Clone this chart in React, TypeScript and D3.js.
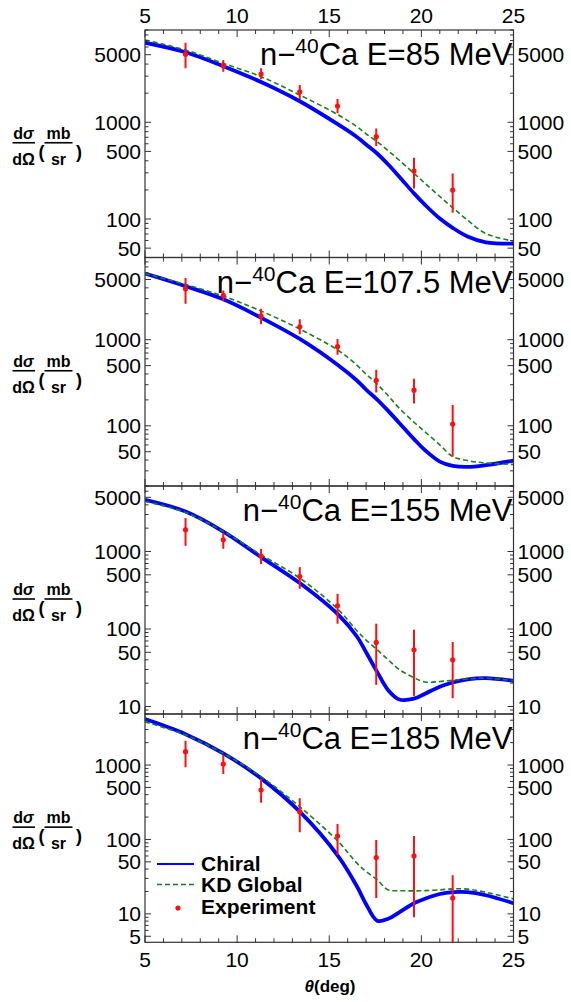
import React from 'react';
import * as d3 from 'd3';

// ---------- data ----------
const thetaGrid = [5, 7.2, 9.25, 11.3, 13.4, 15.5, 16.5, 17, 17.6, 18.2, 18.8, 19.6, 20.2, 21, 21.7, 22.5, 23.5, 25];

const chiral85 = [6650, 5300, 3805, 2610, 1650, 945, 705, 590, 476, 366, 274, 184, 140, 101, 81, 66, 57.5, 55.6];
const kd85 = [7100, 5590, 4070, 2960, 1915, 1190, 900, 760, 630, 508, 405, 296, 234, 171, 131, 97.6, 70.7, 59];
const chiral107 = [5850, 4180, 2940, 1800, 1020, 502, 336, 263, 202, 149, 108, 70, 52, 38.4, 34.3, 33.3, 34.9, 39.4];
const kd107 = [5850, 4370, 3200, 2150, 1330, 748, 506, 398, 305, 223, 160, 110, 85, 60, 44, 39.5, 37, 35.6];
const chiral155 = [4640, 3280, 1810, 847, 391, 152, 80, 50, 28, 16.2, 12.3, 12.6, 14.6, 18, 20.4, 22.4, 23.2, 21.4];
const kd155 = [4420, 3190, 1810, 906, 454, 177, 95, 72, 54, 40, 30, 23.5, 20.7, 21, 21.8, 22.6, 23.2, 21.6];
const chiral185 = [4140, 2600, 1435, 662, 236, 59, 23.5, 13.5, 8.1, 8.6, 10.5, 13.9, 16, 18.5, 19.6, 19.6, 17.8, 13.9];
const kd185 = [3810, 2530, 1435, 697, 275, 93, 48, 37, 28.6, 21, 20.5, 20.4, 20.5, 21, 21.7, 21.5, 19.5, 15.9];

const expTheta = [7.2, 9.25, 11.3, 13.4, 15.45, 17.55, 19.6, 21.7];
const exp85 = [5040, 3820, 3150, 2070, 1470, 710, 313, 199];
const exp85Lo = [3610, 3330, 2780, 1740, 1240, 568, 207, 116];
const exp85Hi = [6650, 4400, 3610, 2430, 1740, 865, 430, 296];
const exp107 = [3890, 3270, 1890, 1410, 831, 338, 259, 105];
const exp107Lo = [2610, 2800, 1510, 1160, 667, 244, 182, 44];
const exp107Hi = [5200, 3730, 2290, 1730, 1020, 449, 353, 174];
const exp155 = [1905, 1415, 881, 475, 199, 67, 54, 40];
const exp155Lo = [1185, 1083, 687, 330, 117, 19, 13.7, 12.8];
const exp155Hi = [2700, 1727, 1083, 629, 284, 117, 98, 68];
const exp185 = [1510, 1031, 461, 236, 111, 57, 60, 16.3];
const exp185Lo = [931, 757, 312, 125, 62, 16.3, 9, 1];
const exp185Hi = [2120, 1362, 649, 357, 161, 98, 111, 33];

const xTickLabels = [5, 10, 15, 20, 25];
const yTicks85 = [50, 100, 500, 1000, 5000];
const yTicks107 = [50, 100, 500, 1000, 5000];
const yTicks155 = [10, 50, 100, 500, 1000, 5000];
const yTicks185 = [5, 10, 50, 100, 500, 1000];
const energies = ['85', '107.5', '155', '185'];
const legendLabels = ['Chiral', 'KD Global', 'Experiment'];

const FONT = '"Liberation Sans", Arial, Helvetica, sans-serif';
const BLUE = '#0000ff';
const GREEN = '#1e7d1e';
const RED = '#ff1010';
const FRAME = '#333';

export default function App() {
  const W = 571, H = 1002;
  const xL = 145, xR = 513.5;
  const x = d3.scaleLinear().domain([5, 25]).range([xL, xR]);

  const panels = [
    { top: 30, bottom: 257.5, domain: [40, 9000], chiral: chiral85, kd: kd85, exp: exp85, lo: exp85Lo, hi: exp85Hi, ticks: yTicks85, energy: energies[0] },
    { top: 257.5, bottom: 486, domain: [20, 9000], chiral: chiral107, kd: kd107, exp: exp107, lo: exp107Lo, hi: exp107Hi, ticks: yTicks107, energy: energies[1] },
    { top: 486, bottom: 714, domain: [8, 7000], chiral: chiral155, kd: kd155, exp: exp155, lo: exp155Lo, hi: exp155Hi, ticks: yTicks155, energy: energies[2] },
    { top: 714, bottom: 942.3, domain: [4.15, 4850], chiral: chiral185, kd: kd185, exp: exp185, lo: exp185Lo, hi: exp185Hi, ticks: yTicks185, energy: energies[3] },
  ];

  const minorX = d3.range(5, 26, 1);

  return (
    <div style={{ position: 'absolute', left: 0, top: 0 }}>
      <svg width={W} height={H} style={{ display: 'block', background: '#fff' }} fontFamily={FONT}>
        <defs>
          {panels.map((p, i) => (
            <clipPath id={`clip${i}`} key={i}>
              <rect x={xL} y={p.top} width={xR - xL} height={p.bottom - p.top} />
            </clipPath>
          ))}
        </defs>
        {panels.map((p, i) => {
          const y = d3.scaleLog().domain(p.domain).range([p.bottom, p.top]);
          const line = d3.line<number>()
            .x((_, j) => x(thetaGrid[j]))
            .y((d) => y(d))
            .curve(d3.curveCatmullRom.alpha(0.5));
          const lo = Math.floor(Math.log10(p.domain[0]));
          const hi = Math.ceil(Math.log10(p.domain[1]));
          const minorY: number[] = [];
          for (let e = lo; e <= hi; e++) {
            for (let k = 1; k <= 9; k++) {
              const v = k * Math.pow(10, e);
              if (v >= p.domain[0] * 0.999 && v <= p.domain[1] * 1.001) minorY.push(v);
            }
          }
          const mid = (p.top + p.bottom) / 2 - 1;
          return (
            <g key={i}>
              <g clipPath={`url(#clip${i})`}>
                <path d={line(p.chiral) || ''} fill="none" stroke={BLUE} strokeWidth={3.8} />
                <path d={line(p.kd) || ''} fill="none" stroke={GREEN} strokeWidth={1.6} strokeDasharray="5,3" />
                {expTheta.map((t, j) => (
                  <g key={j}>
                    <line x1={x(t)} x2={x(t)} y1={y(p.lo[j])} y2={y(p.hi[j])} stroke={RED} strokeWidth={2} />
                    <circle cx={x(t)} cy={y(p.exp[j])} r={2.6} fill={RED} />
                  </g>
                ))}
              </g>
              <text x={xR - 1} y={p.top + 35} textAnchor="end" fontSize={31} fill="#000">
                n−<tspan dy={-12} fontSize={21}>40</tspan><tspan dy={12} fontSize={31}>Ca E={p.energy} MeV</tspan>
              </text>
              <rect x={xL} y={p.top} width={xR - xL} height={p.bottom - p.top} fill="none" stroke={FRAME} strokeWidth={1.2} />
              {minorX.map((t) => {
                const len = t % 5 === 0 ? 7 : 4;
                return (
                  <g key={t}>
                    <line x1={x(t)} x2={x(t)} y1={p.top} y2={p.top + len} stroke={FRAME} strokeWidth={1} />
                    <line x1={x(t)} x2={x(t)} y1={p.bottom} y2={p.bottom - len} stroke={FRAME} strokeWidth={1} />
                  </g>
                );
              })}
              {minorY.map((v) => {
                const major = p.ticks.includes(v);
                const len = major ? 6 : 3.5;
                return (
                  <g key={v}>
                    <line x1={xL} x2={xL + len} y1={y(v)} y2={y(v)} stroke={FRAME} strokeWidth={1} />
                    <line x1={xR} x2={xR - len} y1={y(v)} y2={y(v)} stroke={FRAME} strokeWidth={1} />
                  </g>
                );
              })}
              {p.ticks.map((v) => (
                <g key={'l' + v} fontSize={21} fill="#000">
                  <text x={xL - 4} y={y(v) + 7.5} textAnchor="end">{v}</text>
                  <text x={xR + 4} y={y(v) + 7.5} textAnchor="start">{v}</text>
                </g>
              ))}
              <g transform={`translate(0,${mid})`} fontWeight="bold" fontSize={16} fill="#000">
                <text x={23.5} y={-4} textAnchor="middle">d<tspan fontStyle="italic">σ</tspan></text>
                <line x1={12.5} x2={35} y1={0} y2={0} stroke="#000" strokeWidth={1.6} />
                <text x={23.5} y={22} textAnchor="middle">dΩ</text>
                <text x={41.5} y={15} textAnchor="middle" fontSize={18}>(</text>
                <text x={58.5} y={-4} textAnchor="middle">mb</text>
                <line x1={44.5} x2={72.5} y1={0} y2={0} stroke="#000" strokeWidth={1.6} />
                <text x={58.5} y={22} textAnchor="middle">sr</text>
                <text x={79} y={15} textAnchor="middle" fontSize={18}>)</text>
              </g>
            </g>
          );
        })}
        {xTickLabels.map((t) => (
          <text key={'t' + t} x={x(t)} y={22.5} textAnchor="middle" fontSize={21}>{t}</text>
        ))}
        {xTickLabels.map((t) => (
          <text key={'b' + t} x={x(t)} y={966.5} textAnchor="middle" fontSize={21}>{t}</text>
        ))}
        <text x={330} y={992} textAnchor="middle" fontSize={17} fontWeight="bold">
          <tspan fontStyle="italic">θ</tspan>(deg)
        </text>
        <g fontSize={21} fontWeight="bold">
          <line x1={157} x2={194} y1={864} y2={864} stroke={BLUE} strokeWidth={2} />
          <text x={201} y={871}>{legendLabels[0]}</text>
          <line x1={157} x2={194} y1={884.5} y2={884.5} stroke={GREEN} strokeWidth={1.6} strokeDasharray="5,3" />
          <text x={201} y={892}>{legendLabels[1]}</text>
          <circle cx={178} cy={908} r={2.6} fill={RED} />
          <text x={201} y={913.5}>{legendLabels[2]}</text>
        </g>
      </svg>
    </div>
  );
}
